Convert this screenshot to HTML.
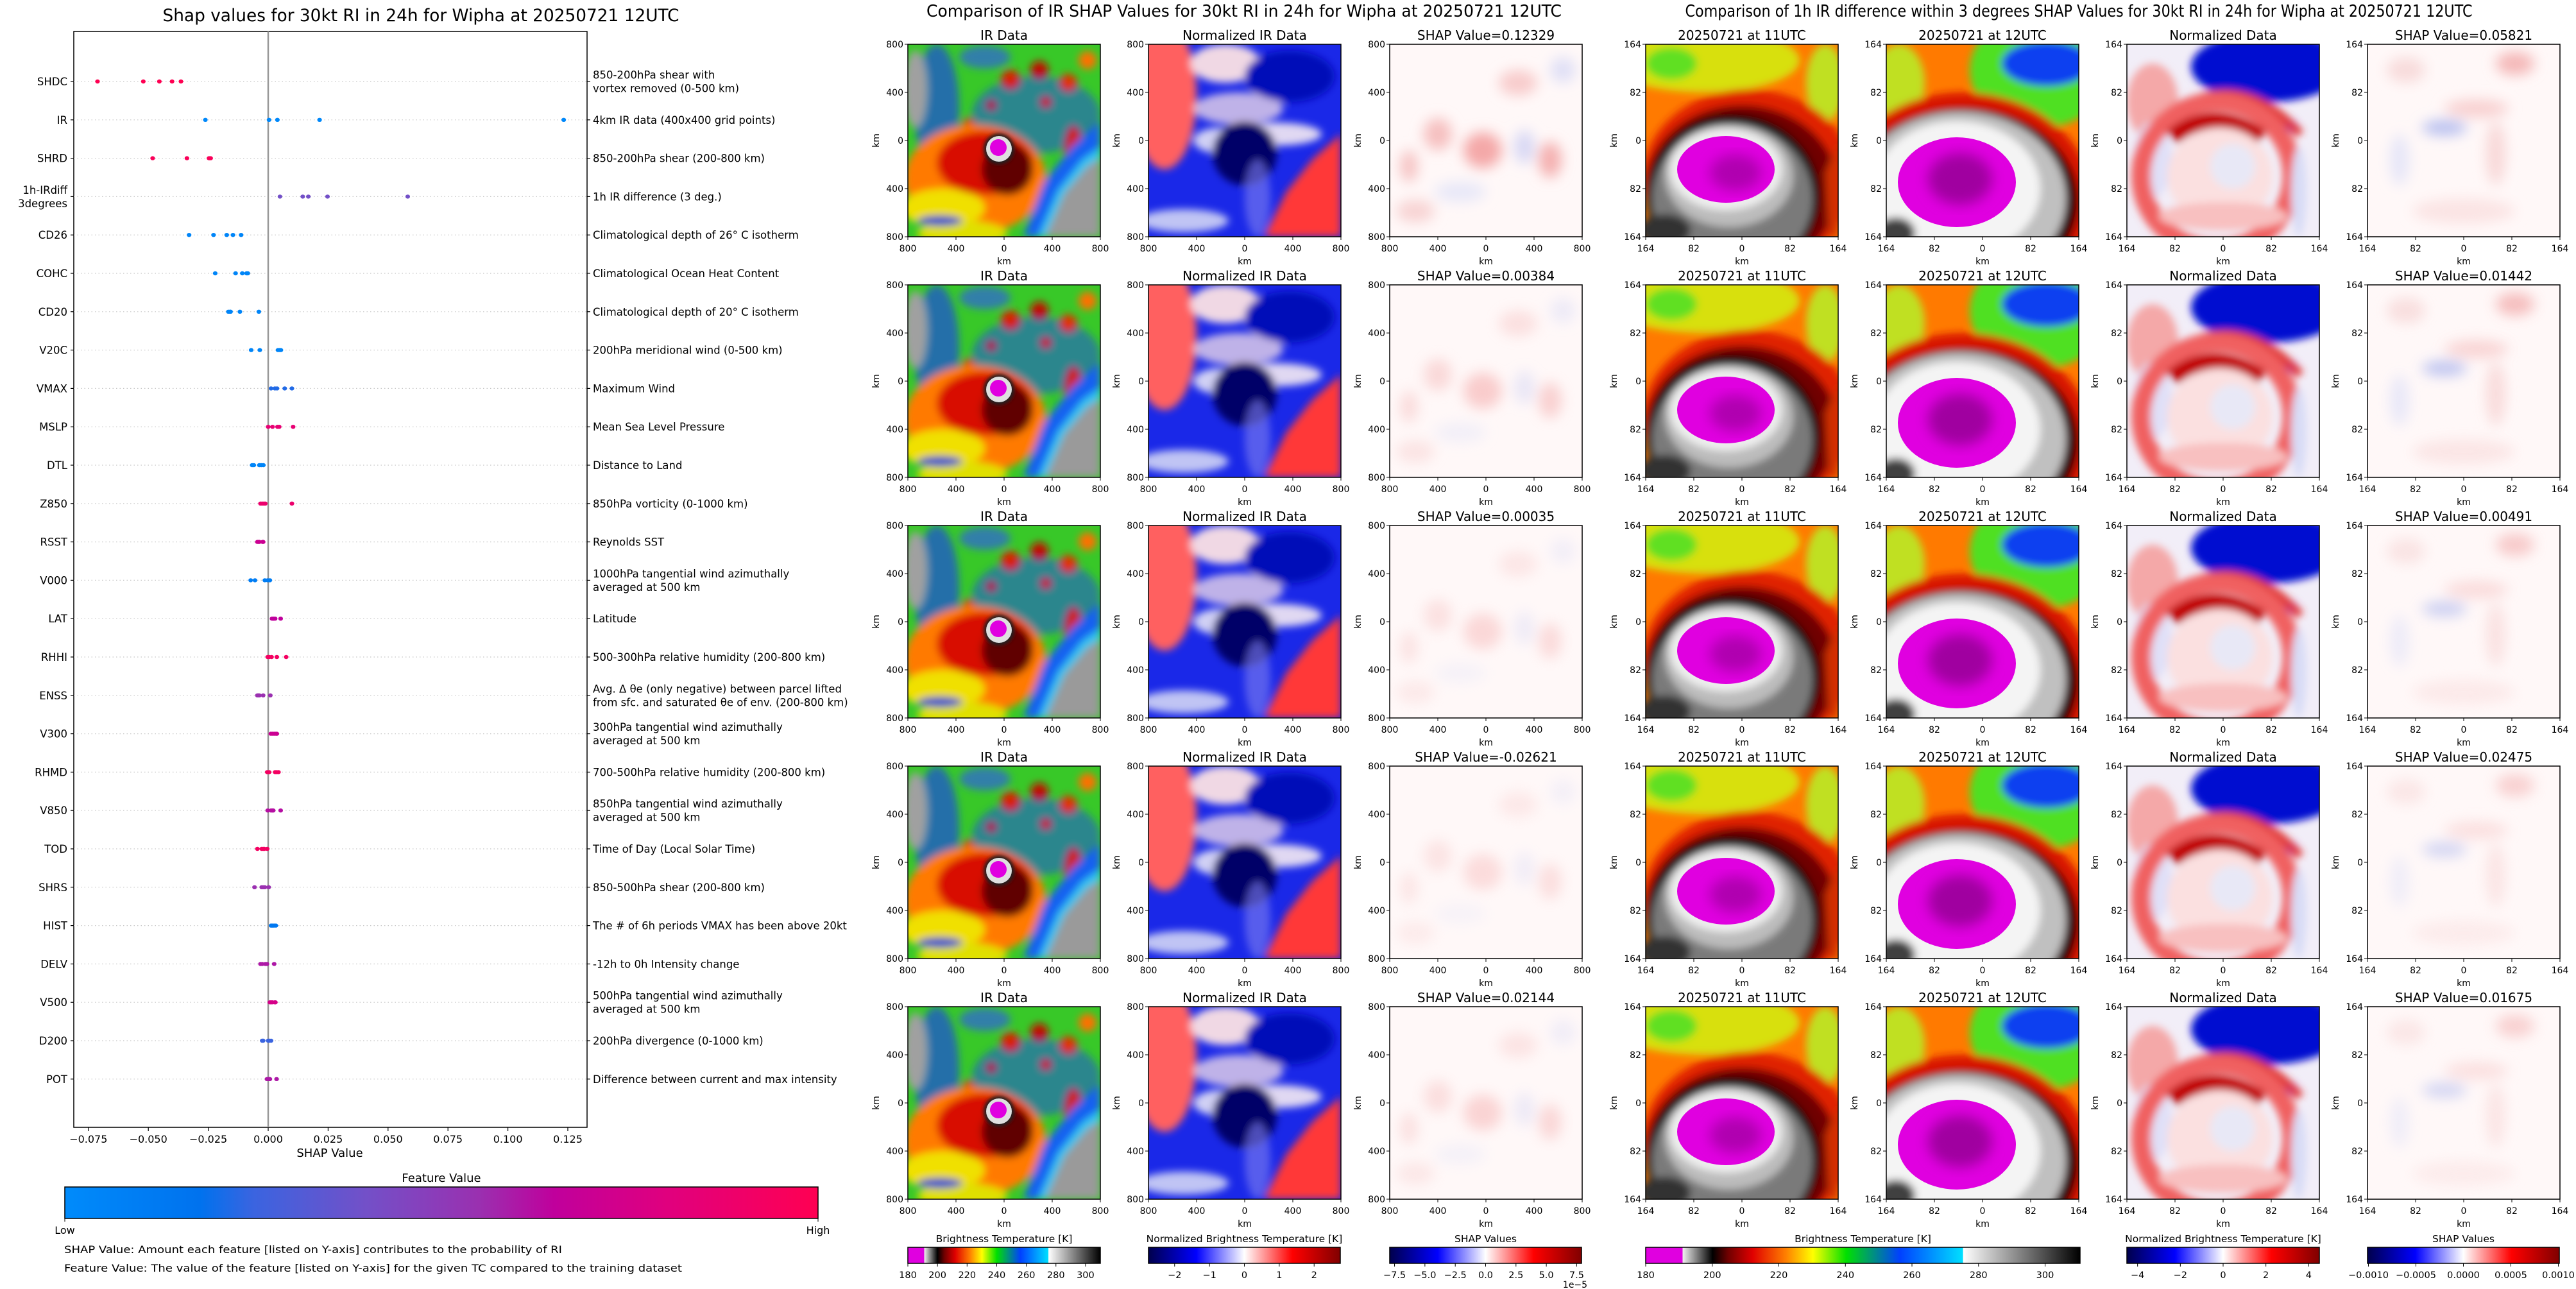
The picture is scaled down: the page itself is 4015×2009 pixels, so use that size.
<!DOCTYPE html>
<html><head><meta charset="utf-8"><title>SHAP RI Wipha</title>
<style>
html,body{margin:0;padding:0;background:#fff;}
svg{display:block;font-family:"DejaVu Sans","Liberation Sans",sans-serif;}
</style></head>
<body>
<svg id="root" xmlns="http://www.w3.org/2000/svg" width="4015" height="2009" viewBox="0 0 4015 2009">
<defs>
<filter id="b6" x="-20%" y="-20%" width="140%" height="140%"><feGaussianBlur stdDeviation="6"/></filter>
<filter id="b3" x="-20%" y="-20%" width="140%" height="140%"><feGaussianBlur stdDeviation="3"/></filter>
<filter id="b10" x="-20%" y="-20%" width="140%" height="140%"><feGaussianBlur stdDeviation="10"/></filter>
<linearGradient id="gShap" x1="0" x2="1" y1="0" y2="0">
<stop offset="0" stop-color="#008bfb"/><stop offset="0.18" stop-color="#0072ee"/><stop offset="0.25" stop-color="#3a64e0"/><stop offset="0.4" stop-color="#7350c8"/><stop offset="0.55" stop-color="#9a30b0"/><stop offset="0.65" stop-color="#c0009c"/><stop offset="0.8" stop-color="#e0007e"/><stop offset="1" stop-color="#ff0052"/>
</linearGradient>
<linearGradient id="gIR" x1="0" x2="1" y1="0" y2="0">
<stop offset="0" stop-color="#e000e0"/><stop offset="0.0846" stop-color="#e000e0"/><stop offset="0.0847" stop-color="#f2f2f2"/><stop offset="0.154" stop-color="#000"/><stop offset="0.19" stop-color="#700000"/><stop offset="0.246" stop-color="#e00000"/><stop offset="0.323" stop-color="#ff8000"/><stop offset="0.385" stop-color="#ffff00"/><stop offset="0.462" stop-color="#00e000"/><stop offset="0.585" stop-color="#0040ff"/><stop offset="0.73" stop-color="#00e0ff"/><stop offset="0.731" stop-color="#ffffff"/><stop offset="1" stop-color="#000"/>
</linearGradient>
<linearGradient id="gSeis" x1="0" x2="1" y1="0" y2="0">
<stop offset="0" stop-color="#00004c"/><stop offset="0.25" stop-color="#0000ff"/><stop offset="0.5" stop-color="#ffffff"/><stop offset="0.75" stop-color="#ff0000"/><stop offset="1" stop-color="#800000"/>
</linearGradient>
</defs>
<g id="left"></g>
<g id="mid"></g>
<g id="right"></g>
</svg>
<script>
const features=["SHDC","IR","SHRD","1h-IRdiff|3degrees","CD26","COHC","CD20","V20C","VMAX","MSLP","DTL","Z850","RSST","V000","LAT","RHHI","ENSS","V300","RHMD","V850","TOD","SHRS","HIST","DELV","V500","D200","POT"];
const descriptions=["850-200hPa shear with|vortex removed (0-500 km)","4km IR data (400x400 grid points)","850-200hPa shear (200-800 km)","1h IR difference (3 deg.)","Climatological depth of 26° C isotherm","Climatological Ocean Heat Content","Climatological depth of 20° C isotherm","200hPa meridional wind (0-500 km)","Maximum Wind","Mean Sea Level Pressure","Distance to Land","850hPa vorticity (0-1000 km)","Reynolds SST","1000hPa tangential wind azimuthally|averaged at 500 km","Latitude","500-300hPa relative humidity (200-800 km)","Avg. Δ θe (only negative) between parcel lifted|from sfc. and saturated θe of env. (200-800 km)","300hPa tangential wind azimuthally|averaged at 500 km","700-500hPa relative humidity (200-800 km)","850hPa tangential wind azimuthally|averaged at 500 km","Time of Day (Local Solar Time)","850-500hPa shear (200-800 km)","The # of 6h periods VMAX has been above 20kt","-12h to 0h Intensity change","500hPa tangential wind azimuthally|averaged at 500 km","200hPa divergence (0-1000 km)","Difference between current and max intensity"];
const shapValues=[
[-0.0712,-0.0521,-0.0454,-0.0401,-0.0364],
[0.12329,0.00384,0.00035,-0.02621,0.02144],
[-0.0482,-0.0339,-0.0247,-0.0240,-0.0244],
[0.05821,0.01442,0.00491,0.02475,0.01675],
[-0.0330,-0.0228,-0.0173,-0.0147,-0.0113],
[-0.0221,-0.0136,-0.0108,-0.0090,-0.0085],
[-0.0166,-0.0159,-0.0157,-0.0118,-0.0039],
[-0.0071,-0.0035,0.0041,0.0048,0.0053],
[0.0012,0.0028,0.0037,0.0069,0.0099],
[0.0000,0.0018,0.0039,0.0046,0.0104],
[-0.0067,-0.0060,-0.0037,-0.0029,-0.0020],
[-0.0032,-0.0025,-0.0018,-0.0012,0.0099],
[-0.0045,-0.0040,-0.0037,-0.0023,-0.0021],
[-0.0073,-0.0055,-0.0014,-0.0002,0.0007],
[0.0016,0.0021,0.0023,0.0029,0.0052],
[-0.0002,0.0004,0.0014,0.0036,0.0075],
[-0.0045,-0.0041,-0.0037,-0.0021,0.0009],
[0.0011,0.0018,0.0025,0.0032,0.0036],
[-0.0004,0.0004,0.0029,0.0036,0.0043],
[-0.0002,0.0012,0.0018,0.0021,0.0052],
[-0.0045,-0.0027,-0.0021,-0.0016,-0.0004],
[-0.0057,-0.0027,-0.0021,-0.0014,0.0002],
[0.0012,0.0016,0.0020,0.0025,0.0032],
[-0.0032,-0.0025,-0.0012,-0.0005,0.0025],
[0.0007,0.0012,0.0018,0.0028,0.0030],
[-0.0025,-0.0021,0.0000,0.0005,0.0012],
[-0.0005,0.0000,0.0005,0.0007,0.0035]];
const featureValues=[1.0,0.02,0.97,0.4,0.04,0.04,0.04,0.04,0.22,0.85,0.04,0.88,0.7,0.1,0.65,0.93,0.55,0.7,0.93,0.62,0.93,0.55,0.14,0.6,0.75,0.25,0.6];
const xTicks=[-0.075,-0.05,-0.025,0,0.025,0.05,0.075,0.1,0.125];
const xTickLabels=["−0.075","−0.050","−0.025","0.000","0.025","0.050","0.075","0.100","0.125"];
const irShapTitles=["0.12329","0.00384","0.00035","-0.02621","0.02144"];
const diffShapTitles=["0.05821","0.01442","0.00491","0.02475","0.01675"];

const NS="http://www.w3.org/2000/svg";
function mk(parent,tag,attrs,text){const e=document.createElementNS(NS,tag);for(const k in attrs)e.setAttribute(k,attrs[k]);if(text!==undefined)e.textContent=text;parent.appendChild(e);return e;}

// ---------- LEFT SHAP SUMMARY ----------
const L=document.getElementById('left');
const AX={l:115,r:915,t:49,b:1757};
const X0=418,PX=93.4/0.025;
function xs(v){return X0+v*PX;}
function ys(i){return 127+i*59.8;}
const cstops=[[0,[0,139,251]],[0.18,[0,114,238]],[0.25,[58,100,224]],[0.4,[115,80,200]],[0.55,[154,48,176]],[0.65,[192,0,156]],[0.8,[224,0,126]],[1,[255,0,82]]];
function cmap(t){for(let i=1;i<cstops.length;i++){if(t<=cstops[i][0]){const a=cstops[i-1],b=cstops[i];const f=(t-a[0])/(b[0]-a[0]);return 'rgb('+a[1].map((c,j)=>Math.round(c+(b[1][j]-c)*f)).join(',')+')';}}return 'rgb(255,0,82)';}

let t=mk(L,'text',{x:656,y:33,'text-anchor':'middle','font-size':27,textLength:805,lengthAdjust:'spacingAndGlyphs'},"Shap values for 30kt RI in 24h for Wipha at 20250721 12UTC");

const fr=mk(L,'rect',{x:AX.l,y:AX.t,width:AX.r-AX.l,height:AX.b-AX.t,fill:'none',stroke:'#000','stroke-width':1.5});

features.forEach((f,i)=>{
  const y=ys(i);
  const gl=mk(L,'line',{x1:AX.l,x2:AX.r,y1:y,y2:y,stroke:'#c8c8c8','stroke-width':1.2,'stroke-dasharray':'1.5 4'});
  
  mk(L,'line',{x1:AX.l-5,x2:AX.l,y1:y,y2:y,stroke:'#000','stroke-width':1.2});
  mk(L,'line',{x1:AX.r,x2:AX.r+5,y1:y,y2:y,stroke:'#000','stroke-width':1.2});
  const parts=f.split('|');
  parts.forEach((p,k)=>{const e=mk(L,'text',{x:105,y:y+6+(k-(parts.length-1)/2)*21,'text-anchor':'end','font-size':16.5},p);
    });
  const dp=descriptions[i].split('|');
  dp.forEach((p,k)=>{const e=mk(L,'text',{x:924,y:y+6+(k-(dp.length-1)/2)*21,'font-size':16.5},p);
    });
});
const zl=mk(L,'line',{x1:xs(0),x2:xs(0),y1:AX.t,y2:AX.b,stroke:'#999','stroke-width':2.5});

shapValues.forEach((vals,i)=>{
  vals.forEach(v=>{
    const d=mk(L,'ellipse',{cx:xs(v),cy:ys(i),rx:3.6,ry:3.2,fill:cmap(featureValues[i])});
    
    
  });
});
xTicks.forEach((v,k)=>{
  mk(L,'line',{x1:xs(v),x2:xs(v),y1:AX.b,y2:AX.b+6,stroke:'#000','stroke-width':1.2});
  const e=mk(L,'text',{x:xs(v),y:1781,'text-anchor':'middle','font-size':16},xTickLabels[k]);
  
});
t=mk(L,'text',{x:514,y:1803,'text-anchor':'middle','font-size':18},"SHAP Value");

t=mk(L,'text',{x:688,y:1842,'text-anchor':'middle','font-size':18},"Feature Value");

const cb=mk(L,'rect',{x:101,y:1850,width:1174,height:49,fill:'url(#gShap)',stroke:'#000','stroke-width':1.5});

mk(L,'line',{x1:101,x2:101,y1:1899,y2:1904,stroke:'#000'});mk(L,'line',{x1:1275,x2:1275,y1:1899,y2:1904,stroke:'#000'});
t=mk(L,'text',{x:101,y:1923,'text-anchor':'middle','font-size':16},"Low");
t=mk(L,'text',{x:1275,y:1923,'text-anchor':'middle','font-size':16},"High");
t=mk(L,'text',{x:100,y:1953,'font-size':16,textLength:776,lengthAdjust:'spacingAndGlyphs'},"SHAP Value: Amount each feature [listed on Y-axis] contributes to the probability of RI");

t=mk(L,'text',{x:100,y:1982,'font-size':16,textLength:963,lengthAdjust:'spacingAndGlyphs'},"Feature Value: The value of the feature [listed on Y-axis] for the given TC compared to the training dataset");


// ---------- IMAGE PANELS ----------
const IMG={
ir:`<rect width="300" height="300" fill="#38c828"/>
<g filter="url(#b6)">
<ellipse cx="200" cy="110" rx="100" ry="60" fill="#2050e0" opacity=".55"/>
<ellipse cx="45" cy="100" rx="35" ry="100" fill="#1a48e0" opacity=".7"/>
<ellipse cx="12" cy="70" rx="18" ry="60" fill="#a0a0a0"/>
<ellipse cx="120" cy="20" rx="40" ry="18" fill="#3060e0" opacity=".7"/>
<circle cx="160" cy="55" r="15" fill="#d82000"/><circle cx="205" cy="40" r="14" fill="#c01000"/><circle cx="250" cy="60" r="14" fill="#e03000"/>
<circle cx="215" cy="90" r="9" fill="#d02000"/><circle cx="130" cy="95" r="8" fill="#c01000"/><circle cx="280" cy="25" r="14" fill="#ff7000"/>
<ellipse cx="258" cy="165" rx="14" ry="38" fill="#d02000"/><circle cx="95" cy="125" r="10" fill="#e04000"/>
<ellipse cx="105" cy="210" rx="110" ry="85" fill="#ff7a00"/>
<ellipse cx="55" cy="255" rx="65" ry="30" fill="#f0e000"/>
<ellipse cx="85" cy="295" rx="70" ry="20" fill="#e0e000"/>
<ellipse cx="120" cy="185" rx="75" ry="50" fill="#d81000"/>
<ellipse cx="155" cy="195" rx="40" ry="40" fill="#600000"/>
<ellipse cx="50" cy="275" rx="35" ry="8" fill="#1840d0"/>
<path d="M180 300 L212 215 L255 160 L300 120 L300 300 Z" fill="#1860f0"/>
<path d="M203 300 L234 228 L272 180 L300 160 L300 300 Z" fill="#30c8f0"/>
<path d="M214 300 L244 232 L280 190 L300 178 L300 300 Z" fill="#9a9a9a"/>
</g>
<circle cx="142" cy="163" r="24" fill="#202020" filter="url(#b3)"/>
<circle cx="142" cy="163" r="20" fill="#e0e0e0"/>
<circle cx="141" cy="161" r="13" fill="#e000e0"/>`,
nir:`<rect width="300" height="300" fill="#1a28e8"/>
<g filter="url(#b6)">
<ellipse cx="25" cy="80" rx="50" ry="115" fill="#ff6060"/>
<ellipse cx="120" cy="30" rx="55" ry="30" fill="#f0d8e4"/>
<ellipse cx="110" cy="150" rx="40" ry="20" fill="#d0d0f4"/>
<ellipse cx="200" cy="140" rx="70" ry="18" fill="#e0d8f2"/>
<ellipse cx="140" cy="100" rx="70" ry="25" fill="#e8d4e8" opacity=".8"/>
<ellipse cx="220" cy="50" rx="70" ry="40" fill="#0008b8"/>
<ellipse cx="150" cy="170" rx="50" ry="50" fill="#000068"/>
<path d="M180 300 L215 230 L255 180 L300 140 L300 300 Z" fill="#ff3838"/>
<ellipse cx="55" cy="275" rx="70" ry="18" fill="#c0c4f4"/>
<ellipse cx="170" cy="240" rx="20" ry="60" fill="#8080f0" opacity=".6"/>
</g>`,
shap:`<rect width="300" height="300" fill="#fff8f8"/>
<g filter="url(#b10)" class="sh">
<ellipse cx="145" cy="165" rx="30" ry="28" fill="#f4a8a8"/>
<ellipse cx="75" cy="140" rx="22" ry="25" fill="#f6c0c0"/>
<ellipse cx="250" cy="180" rx="18" ry="28" fill="#f4b0b0"/>
<ellipse cx="200" cy="60" rx="30" ry="20" fill="#f8cccc"/>
<ellipse cx="30" cy="190" rx="14" ry="25" fill="#f6c4c4"/>
<ellipse cx="210" cy="160" rx="16" ry="26" fill="#d8d8f4"/>
<ellipse cx="110" cy="230" rx="40" ry="16" fill="#e8e8f8"/>
<ellipse cx="40" cy="260" rx="30" ry="18" fill="#f8d4d4"/>
<ellipse cx="270" cy="40" rx="20" ry="20" fill="#e0e0f6"/>
</g>`,
h11:`<rect width="300" height="300" fill="#ff7a00"/>
<g filter="url(#b6)">
<ellipse cx="90" cy="25" rx="150" ry="50" fill="#d8e010"/>
<ellipse cx="40" cy="30" rx="40" ry="25" fill="#60e020"/>
<ellipse cx="280" cy="60" rx="30" ry="60" fill="#c0e020"/>
<ellipse cx="160" cy="210" rx="165" ry="140" fill="#e02000"/>
<ellipse cx="150" cy="225" rx="150" ry="130" fill="#700000"/>
<ellipse cx="135" cy="235" rx="135" ry="125" fill="#101010"/>
<ellipse cx="135" cy="240" rx="125" ry="115" fill="#7a7a7a"/>
<ellipse cx="130" cy="205" rx="100" ry="80" fill="#bcbcbc"/>
<ellipse cx="125" cy="195" rx="88" ry="64" fill="#eeeeee"/>
<path d="M280 200 L300 150 L300 300 L285 300 Z" fill="#d03000"/>
<ellipse cx="30" cy="290" rx="40" ry="25" fill="#303030"/>
</g>
<ellipse cx="125" cy="195" rx="76" ry="52" fill="#e000e0"/>
<ellipse cx="140" cy="200" rx="40" ry="28" fill="#b000b0" filter="url(#b10)"/>`,
h12:`<rect width="300" height="300" fill="#ff7a00"/>
<g filter="url(#b6)">
<ellipse cx="240" cy="40" rx="110" ry="90" fill="#50e020"/>
<ellipse cx="250" cy="30" rx="70" ry="35" fill="#1040f0"/>
<ellipse cx="20" cy="60" rx="40" ry="60" fill="#c0e020"/>
<ellipse cx="120" cy="240" rx="200" ry="165" fill="#d81800"/>
<ellipse cx="120" cy="245" rx="180" ry="145" fill="#300000"/>
<ellipse cx="115" cy="240" rx="165" ry="135" fill="#c0c0c0"/>
<ellipse cx="110" cy="225" rx="130" ry="105" fill="#f4f4f4"/>
<ellipse cx="15" cy="295" rx="30" ry="25" fill="#404040"/>
</g>
<ellipse cx="110" cy="215" rx="92" ry="70" fill="#e000e0"/>
<ellipse cx="115" cy="210" rx="50" ry="40" fill="#a000a0" filter="url(#b10)"/>`,
nd:`<rect width="300" height="300" fill="#f2eef8"/>
<g filter="url(#b6)">
<ellipse cx="220" cy="35" rx="120" ry="55" fill="#0010d0"/>
<ellipse cx="40" cy="90" rx="40" ry="60" fill="#f4a8a8"/>
<ellipse cx="40" cy="180" rx="30" ry="60" fill="#e0e0f8"/>
<path d="M60 130 Q150 50 260 130" stroke="#1030e0" stroke-width="18" fill="none"/>
<path d="M80 100 Q180 40 270 140" stroke="#e03030" stroke-width="14" fill="none"/>
<ellipse cx="140" cy="205" rx="118" ry="115" fill="none" stroke="#f06060" stroke-width="30"/>
<path d="M70 145 Q130 95 210 145" stroke="#c00000" stroke-width="26" fill="none"/>
<ellipse cx="145" cy="205" rx="82" ry="75" fill="#fbe0e0"/>
<ellipse cx="165" cy="190" rx="35" ry="35" fill="#e8e8f6"/>
<ellipse cx="150" cy="268" rx="100" ry="22" fill="#f8c0c0"/>
<ellipse cx="268" cy="230" rx="12" ry="70" fill="#d8dcf6"/>
</g>`,
sh2:`<rect width="300" height="300" fill="#fff8f8"/>
<g filter="url(#b10)">
<ellipse cx="230" cy="30" rx="30" ry="18" fill="#f4b8b8"/>
<ellipse cx="120" cy="130" rx="35" ry="12" fill="#b8c0f0"/>
<ellipse cx="170" cy="100" rx="50" ry="14" fill="#f8d0d0"/>
<ellipse cx="50" cy="180" rx="15" ry="40" fill="#e6e6f8"/>
<ellipse cx="200" cy="170" rx="15" ry="50" fill="#f8d8d8"/>
<ellipse cx="150" cy="260" rx="80" ry="20" fill="#fbe4e4"/>
<ellipse cx="60" cy="40" rx="30" ry="20" fill="#f8dcdc"/>
</g>`
};

function panel(par,x,y,kind,title,ticks,opacity,nameBase){
  const g=mk(par,'g',{});
  
  const s=mk(g,'svg',{x:x,y:y,width:300,height:300,viewBox:'0 0 300 300',overflow:'hidden'});
  s.innerHTML=IMG[kind];
  if(opacity!==undefined){const gg=s.querySelector('g');if(gg)gg.setAttribute('opacity',opacity);}
  mk(g,'rect',{x:x,y:y,width:300,height:300,fill:'none',stroke:'#000','stroke-width':1.5});
  const tt=mk(g,'text',{x:x+150,y:y-7,'text-anchor':'middle','font-size':20},title);
  
  ticks.forEach((lab,k)=>{
    const p=k*75;
    mk(g,'line',{x1:x-5,x2:x,y1:y+p,y2:y+p,stroke:'#000'});
    mk(g,'line',{x1:x+p,x2:x+p,y1:y+300,y2:y+305,stroke:'#000'});
    const a=mk(g,'text',{x:x-7,y:y+p+5,'text-anchor':'end','font-size':14},lab);
    
    const b=mk(g,'text',{x:x+p,y:y+323,'text-anchor':'middle','font-size':14},lab);
    
  });
  const kx=mk(g,'text',{x:x+150,y:y+343,'text-anchor':'middle','font-size':14},"km");
  
  const ky=mk(g,'text',{x:0,y:0,'text-anchor':'middle','font-size':14,transform:`translate(${x-45},${y+150}) rotate(-90)`},"km");
  
}
const rowsY=[69,444,819,1194,1569];
const t800=["800","400","0","400","800"],t164=["164","82","0","82","164"];
const M=document.getElementById('mid'),R=document.getElementById('right');
t=mk(M,'text',{x:1939,y:26,'text-anchor':'middle','font-size':26,textLength:990,lengthAdjust:'spacingAndGlyphs'},"Comparison of IR SHAP Values for 30kt RI in 24h for Wipha at 20250721 12UTC");

t=mk(R,'text',{x:3240,y:26,'text-anchor':'middle','font-size':26,textLength:1227,lengthAdjust:'spacingAndGlyphs'},"Comparison of 1h IR difference within 3 degrees SHAP Values for 30kt RI in 24h for Wipha at 20250721 12UTC");

const shapOp=[1,0.55,0.4,0.35,0.45],sh2Op=[1,0.9,0.7,0.6,0.6];
rowsY.forEach((y,r)=>{
  panel(M,1415,y,'ir',"IR Data",t800,undefined,'ir-data');
  panel(M,1790,y,'nir',"Normalized IR Data",t800,undefined,'normalized-ir');
  panel(M,2166,y,'shap',"SHAP Value="+irShapTitles[r],t800,shapOp[r],'ir-shap');
  panel(R,2565,y,'h11',"20250721 at 11UTC",t164,undefined,'ir-11utc');
  panel(R,2940,y,'h12',"20250721 at 12UTC",t164,undefined,'ir-12utc');
  panel(R,3315,y,'nd',"Normalized Data",t164,undefined,'normalized-diff');
  panel(R,3690,y,'sh2',"SHAP Value="+diffShapTitles[r],t164,sh2Op[r],'diff-shap');
});

// ---------- COLORBARS ----------
const cbIRticks=[180,200,220,240,260,280,300];
const cbNormTicks=[-2,-1,0,1,2];
const cbShapTicks=[-7.5,-5.0,-2.5,0.0,2.5,5.0,7.5];
const cbNorm2Ticks=[-4,-2,0,2,4];
const cbShap2Ticks=[-0.001,-0.0005,0,0.0005,0.001];
function colorbar(par,x0,x1,grad,label,lo,hi,ticks,fmt,name){
  const g=mk(par,'g',{});
  const lt=mk(g,'text',{x:(x0+x1)/2,y:1936,'text-anchor':'middle','font-size':15.5},label);
  
  mk(g,'rect',{x:x0,y:1944,width:x1-x0,height:25,fill:'url(#'+grad+')',stroke:'#000','stroke-width':1.5});
  ticks.forEach(v=>{const px=x0+(v-lo)/(hi-lo)*(x1-x0);
    mk(g,'line',{x1:px,x2:px,y1:1969,y2:1974,stroke:'#000'});
    const e=mk(g,'text',{x:px,y:1992,'text-anchor':'middle','font-size':14.5},fmt(v));
    });
}
const mfmt=d=>v=>(v<0?'−':'')+Math.abs(v).toFixed(d);
colorbar(M,1415,1715,'gIR',"Brightness Temperature [K]",180,310,cbIRticks,v=>String(v),'ir-colorbar');
colorbar(M,1790,2089,'gSeis',"Normalized Brightness Temperature [K]",-2.75,2.75,cbNormTicks,mfmt(0),'normalized-ir-colorbar');
colorbar(M,2166,2465,'gSeis',"SHAP Values",-7.9,7.9,cbShapTicks,mfmt(1),'ir-shap-colorbar');
t=mk(M,'text',{x:2455,y:2007,'text-anchor':'middle','font-size':14},"1e−5");
colorbar(R,2565,3242,'gIR',"Brightness Temperature [K]",180,310.5,cbIRticks,v=>String(v),'diff-ir-colorbar');
colorbar(R,3315,3615,'gSeis',"Normalized Brightness Temperature [K]",-4.5,4.5,cbNorm2Ticks,mfmt(0),'normalized-diff-colorbar');
colorbar(R,3690,3989,'gSeis',"SHAP Values",-0.00101,0.00101,cbShap2Ticks,mfmt(4),'diff-shap-colorbar');
</script>
</body></html>
